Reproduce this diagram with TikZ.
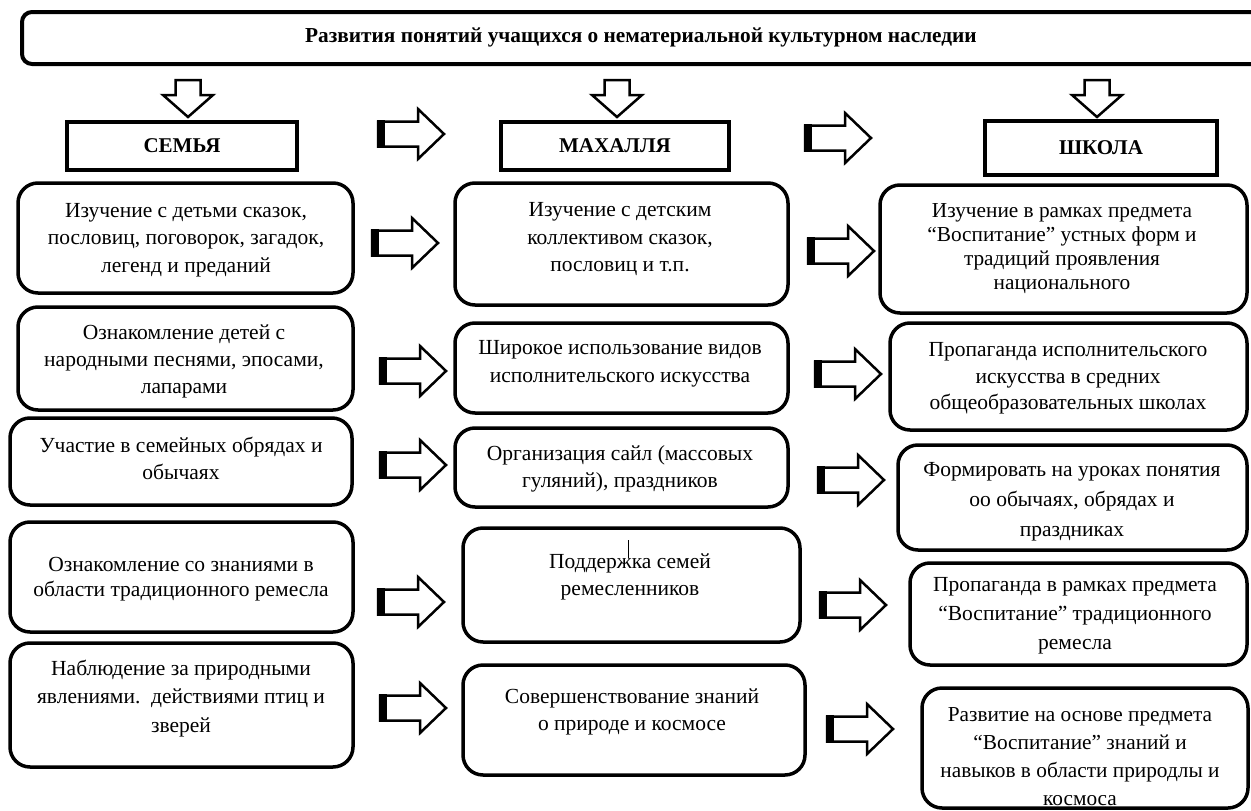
\documentclass[tikz,border=0pt]{standalone}
\usepackage{fontspec}
\setmainfont{Liberation Serif}
\begin{document}
\begin{tikzpicture}[x=1pt,y=-1pt,line join=miter,
  rbox/.style={draw,line width=3.5pt,rounded corners=20pt,inner sep=0pt},
  hbox/.style={draw,line width=4pt,inner sep=0pt,font=\bfseries\fontsize{21}{24}\selectfont},
  txt/.style={align=center,inner sep=0pt,font=\fontsize{21.5}{#1}\selectfont},
  rtxt/.style={align=center,inner sep=0pt,font=\fontsize{21.3}{#1}\selectfont},
  rarr/.pic={
    \draw[line width=2.5pt] (0,-12.5) -- (40,-12.5) -- (40,-25) -- (66,0) -- (40,25) -- (40,12.5) -- (0,12.5) -- cycle;
    \fill (-1.25,-13.75) rectangle (7,13.75);
  },
  darr/.pic={
    \draw[line width=2.5pt] (-12.5,-37) -- (12.5,-37) -- (12.5,-22) -- (25,-22) -- (0,0) -- (-25,-22) -- (-12.5,-22) -- cycle;
  }]
\clip (0,0) rectangle (1251,811);
\fill[white] (0,0) rectangle (1251,811);

% title
\node[draw,line width=4pt,rounded corners=10pt,minimum width=1278pt,minimum height=52pt,inner sep=0pt] (titlebox) at (661,38) {};
\node[font=\bfseries\fontsize{21.3}{24}\selectfont,inner sep=0pt] (title) at (641,37) {Развития понятий учащихся о нематериальной культурном наследии};

% down arrows
\pic (d1) at (188,117) {darr};
\pic (d2) at (617,117) {darr};
\pic (d3) at (1097,117) {darr};

% headers
\node[hbox,minimum width=230pt,minimum height=48pt] (h1) at (182,146) {СЕМЬЯ};
\node[hbox,minimum width=228pt,minimum height=48pt] (h2) at (615,146) {МАХАЛЛЯ};
\node[hbox,minimum width=232pt,minimum height=54pt] (h3) at (1101,148) {ШКОЛА};

\pic (ha1) at (378,134) {rarr};
\pic (ha2) at (805,138) {rarr};

% left column
\node[rbox,minimum width=335pt,minimum height=110pt] (L1) at (185.5,238) {};
\node[txt=27.5] (L1t) at (186,240) {Изучение с детьми сказок,\\пословиц, поговорок, загадок,\\легенд и преданий};
\node[rbox,minimum width=335pt,minimum height=103pt] (L2) at (185.5,358.5) {};
\node[txt=27] (L2t) at (184,361) {Ознакомление детей с\\народными песнями, эпосами,\\лапарами};
\node[rbox,minimum width=342pt,minimum height=87pt] (L3) at (181,461.5) {};
\node[txt=27] (L3t) at (181,458.5) {Участие в семейных обрядах и\\обычаях};
\node[rbox,minimum width=343pt,minimum height=110pt] (L4) at (181.5,577) {};
\node[txt=25] (L4t) at (181,579.5) {Ознакомление со знаниями в\\области традиционного ремесла};
\node[rbox,minimum width=343pt,minimum height=124pt] (L5) at (181.5,705) {};
\node[txt=28.5] (L5t) at (181,698.5) {Наблюдение за природными\\явлениями.\ \ действиями птиц и\\зверей};

% middle column
\node[rbox,minimum width=333pt,minimum height=122pt] (M1) at (621.5,244) {};
\node[txt=27.5] (M1t) at (620,239.5) {Изучение с детским\\коллективом сказок,\\пословиц и т.п.};
\node[rbox,minimum width=333pt,minimum height=90pt] (M2) at (621.5,368) {};
\node[txt=28] (M2t) at (620,364) {Широкое использование видов\\исполнительского искусства};
\node[rbox,minimum width=333pt,minimum height=79pt] (M3) at (621.5,467.5) {};
\node[txt=27] (M3t) at (620,468.5) {Организация сайл (массовых\\гуляний), праздников};
\node[rbox,minimum width=337pt,minimum height=114pt] (M4) at (631.5,585) {};
\node[txt=27] (M4t) at (630,576.5) {Поддержка семей\\ремесленников};
\draw[line width=0.8pt] (628,540) -- (628,558);
\node[rbox,minimum width=342pt,minimum height=110pt] (M5) at (634,720) {};
\node[txt=27] (M5t) at (632,711.5) {Совершенствование знаний\\о природе и космосе};

% right column
\node[rbox,minimum width=367pt,minimum height=128pt] (R1) at (1063.5,249) {};
\node[rtxt=24] (R1t) at (1062,249) {Изучение в рамках предмета\\“Воспитание” устных форм и\\традиций проявления\\национального};
\node[rbox,minimum width=357pt,minimum height=107pt] (R2) at (1068.5,376.5) {};
\node[txt=26.5] (R2t) at (1068,378.5) {Пропаганда исполнительского\\искусства в средних\\общеобразовательных школах};
\node[rbox,minimum width=349pt,minimum height=105pt] (R3) at (1072.5,497.5) {};
\node[txt=30] (R3t) at (1072,502) {Формировать на уроках понятия\\оо обычаях, обрядах и\\праздниках};
\node[rbox,minimum width=337pt,minimum height=102pt] (R4) at (1078.5,614) {};
\node[txt=29] (R4t) at (1075,616) {Пропаганда в рамках предмета\\“Воспитание” традиционного\\ремесла};
\node[rbox,minimum width=326pt,minimum height=120pt] (R5) at (1085,748) {};
\node[rtxt=28] (R5t) at (1080,756.5) {Развитие на основе предмета\\“Воспитание” знаний и\\навыков в области природлы и\\космоса};

% block arrows between columns
\pic (lm1) at (372,243) {rarr};
\pic (lm2) at (380,371) {rarr};
\pic (lm3) at (380,465) {rarr};
\pic (lm4) at (378,602) {rarr};
\pic (lm5) at (380,708) {rarr};
\pic (mr1) at (808,251) {rarr};
\pic (mr2) at (815,374) {rarr};
\pic (mr3) at (818,480) {rarr};
\pic (mr4) at (820,605) {rarr};
\pic (mr5) at (827,729) {rarr};
\end{tikzpicture}
\end{document}
